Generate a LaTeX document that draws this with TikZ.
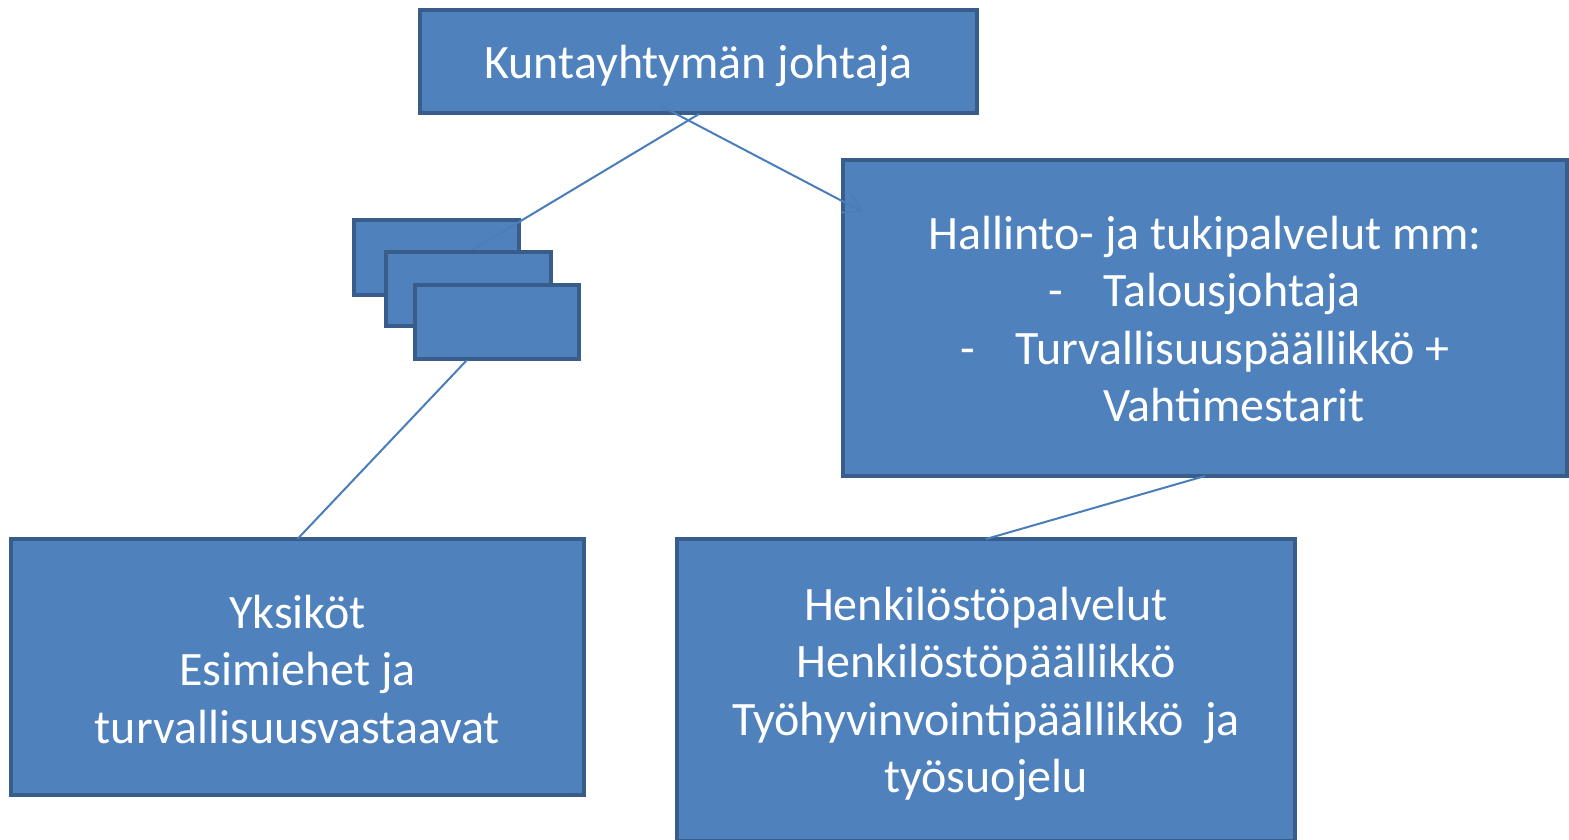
\documentclass[tikz,border=0pt]{standalone}
\usepackage{fontspec}
\setmainfont{Carlito}
\usetikzlibrary{arrows.meta}
\definecolor{boxfill}{HTML}{4F81BD}
\definecolor{boxline}{HTML}{385D8A}
\definecolor{connc}{HTML}{4A7EBB}
\begin{document}
\begin{tikzpicture}[x=1pt,y=-1pt,
  box/.style={draw=boxline, fill=boxfill, line width=4pt, inner sep=0pt, outer sep=0pt},
  lbl/.style={inner sep=0pt, text=white, align=center, font=\fontsize{48}{57.5}\selectfont},
  conn/.style={draw=connc, line width=2pt}]
\useasboundingbox (0,0) rectangle (1569,840);
\clip (0,0) rectangle (1569,840);
\fill[white] (0,0) rectangle (1569,840);
% main boxes
\node[box, minimum width=557pt, minimum height=103pt] (top) at (698.5,61.5) {};
\node[lbl, yshift=-4pt] (topt) at (top.center) {Kuntayhtymän johtaja};
\node[box, minimum width=724pt, minimum height=316pt] (right) at (1205,318) {};
\node[lbl, yshift=-1pt] (rightt) at (right.center)
  {Hallinto- ja tukipalvelut mm:\\
   -\hspace{40pt}Talousjohtaja\\
   -\hspace{41pt}Turvallisuuspäällikkö +\\
   \hspace*{58pt}Vahtimestarit};
\node[box, minimum width=618pt, minimum height=302pt] (hr) at (986,690) {};
\node[lbl, yshift=-4pt] (hrt) at (hr.center)
  {Henkilöstöpalvelut\\ Henkilöstöpäällikkö\\ Työhyvinvointipäällikkö\ \ ja\\ työsuojelu};
\node[box, minimum width=573pt, minimum height=256pt] (units) at (297.5,667) {};
\node[lbl, yshift=-2.5pt] (unitst) at (units.center)
  {Yksiköt\\ Esimiehet ja\\ turvallisuusvastaavat};
% stacked boxes
\node[box, minimum width=165pt, minimum height=75pt] (s1) at (436.5,257.5) {};
\coordinate (l1s) at (699,114);
\coordinate (l1e) at (469,252);
\draw[conn] (l1s) -- (l1e);
\node[box, minimum width=165pt, minimum height=74pt] (s2) at (468.5,289) {};
\node[box, minimum width=164pt, minimum height=74pt] (s3) at (497,322) {};
% connectors
\coordinate (a2s) at (661,106);
\coordinate (a2e) at (863,212);
\draw[conn, -{Straight Barb[length=17pt,width=21pt]}] (a2s) -- (a2e);
\coordinate (l3s) at (467,360);
\draw[conn] (l3s) -- (units.north);
\draw[conn] (right.south) -- (hr.north);
\end{tikzpicture}
\end{document}
